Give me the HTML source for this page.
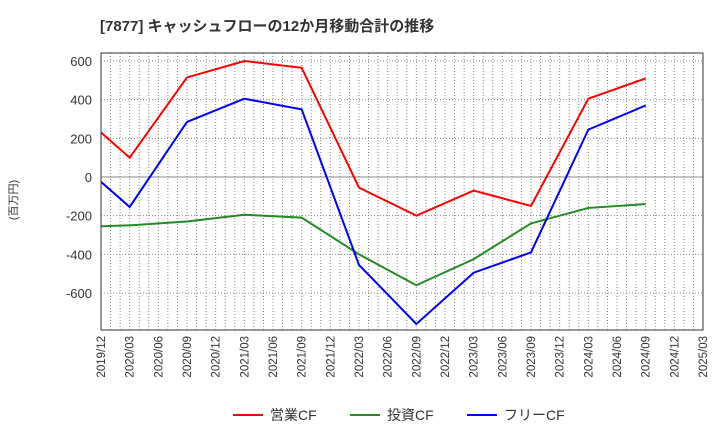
<!DOCTYPE html>
<html><head><meta charset="utf-8"><style>
body{margin:0;background:#fff;font-family:"Liberation Sans","Noto Sans CJK JP",sans-serif}
svg text{font-family:"Liberation Sans","Noto Sans CJK JP",sans-serif}
</style></head><body>
<svg id="c" width="720" height="440" xmlns="http://www.w3.org/2000/svg">
<text x="100" y="31" font-size="15" font-weight="bold" fill="#333">[7877]  キャッシュフローの12か月移動合計の推移</text>
<text transform="translate(17,200) rotate(-90)" font-size="11" fill="#333" text-anchor="middle">(百万円)</text>
<g id="grid"></g><g id="series"></g><g id="axes"></g>
<rect x="101" y="53" width="602" height="277" fill="none" stroke="#333" stroke-width="1"/>
<g>
<line x1="233" y1="415" x2="263" y2="415" stroke="#f00" stroke-width="2"/>
<text x="270" y="420" font-size="14" fill="#333">営業CF</text>
<line x1="350" y1="415" x2="380" y2="415" stroke="#228b22" stroke-width="2"/>
<text x="387" y="420" font-size="14" fill="#333">投資CF</text>
<line x1="467" y1="415" x2="497" y2="415" stroke="#00f" stroke-width="2"/>
<text x="504" y="420" font-size="14" fill="#333">フリーCF</text>
</g>
</svg>
<script>
const xLabels=["2019/12","2020/03","2020/06","2020/09","2020/12","2021/03","2021/06","2021/09","2021/12","2022/03","2022/06","2022/09","2022/12","2023/03","2023/06","2023/09","2023/12","2024/03","2024/06","2024/09","2024/12","2025/03"];
const yTicks=[600,400,200,0,-200,-400,-600];
const pointIdx=[0,1,3,5,7,9,11,13,15,17,19];
const operatingCF=[230,100,515,600,565,-55,-200,-70,-150,405,510];
const investingCF=[-255,-250,-230,-195,-210,-400,-560,-425,-240,-160,-140];
const freeCF=[-25,-155,285,405,350,-455,-760,-495,-390,-245+490,370];
const L=101,R=703,T=53,B=330;
const xs=i=>L+(R-L)*i/21;
const ys=v=>177-v*(116/600);
const NS="http://www.w3.org/2000/svg";
function mk(tag,attrs,parent){const e=document.createElementNS(NS,tag);for(const k in attrs)e.setAttribute(k,attrs[k]);parent.appendChild(e);return e;}
const grid=document.getElementById('grid'),axes=document.getElementById('axes'),ser=document.getElementById('series');
for(let m=1;m<63;m++){const x=L+(R-L)*m/63;const l=mk('line',{x1:x,x2:x,y1:T,y2:B,stroke:'#888','stroke-width':1,'stroke-dasharray':'1,2'},grid);

}
yTicks.forEach(v=>{const y=ys(v);const l=mk('line',{x1:L,x2:R,y1:y,y2:y,stroke:v===0?'#888':'#888','stroke-width':1,'stroke-dasharray':v===0?'none':'1,2'},grid);


const t=mk('text',{x:L-9,y:y+5,'font-size':13,fill:'#333','text-anchor':'end'},axes);t.textContent=v;

});
xLabels.forEach((s,i)=>{const x=xs(i);const t=mk('text',{transform:`translate(${x+4},336) rotate(-90)`,'font-size':11.5,fill:'#333','text-anchor':'end'},axes);t.textContent=s;

});
[[operatingCF,'#f00','operating-cf-line'],[investingCF,'#228b22','investing-cf-line'],[freeCF,'#00f','free-cf-line']].forEach(([d,c,n])=>{
const p=mk('polyline',{points:d.map((v,k)=>xs(pointIdx[k])+','+ys(v)).join(' '),fill:'none',stroke:c,'stroke-width':2},ser);

});
</script>
</body></html>
